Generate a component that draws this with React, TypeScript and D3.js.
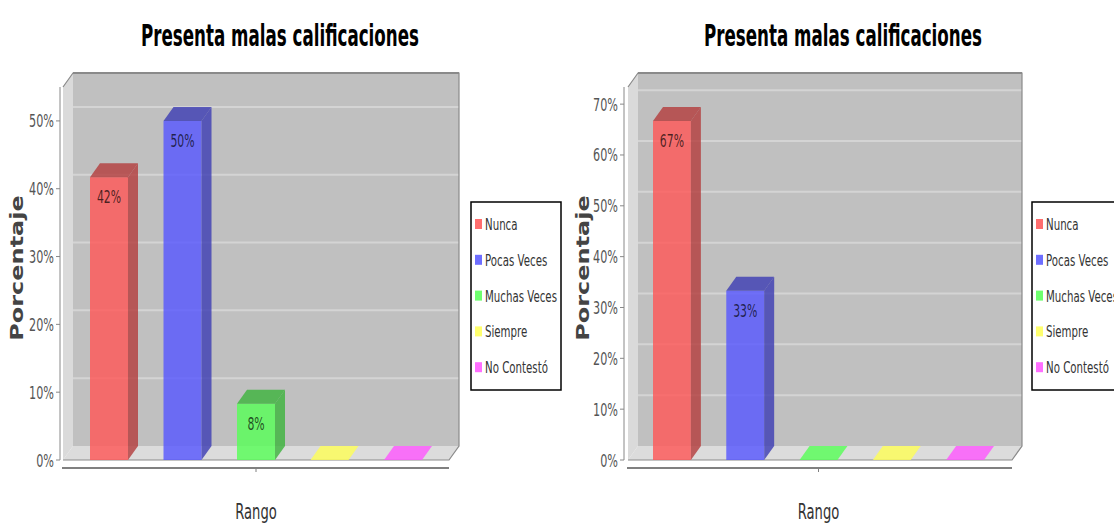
import React from "react";
import * as d3 from "d3";

// ---- data ----
const seriesNames = ["Nunca", "Pocas Veces", "Muchas Veces", "Siempre", "No Contestó"];
const seriesColors = ["#ff5555", "#5555ff", "#55ff55", "#ffff55", "#ff55ff"];
const leftValues = [41.7, 50, 8.3, 0, 0];
const rightValues = [66.7, 33.3, 0, 0, 0];
const leftTicks = [0, 10, 20, 30, 40, 50];
const rightTicks = [0, 10, 20, 30, 40, 50, 60, 70];
const titleText = "Presenta malas calificaciones";
const xAxisLabel = "Rango";
const yAxisLabel = "Porcentaje";

const W = 1114;
const H = 525;
const SX = 0.64; // horizontal squeeze of the original picture
const DX = 10;
const DY = 14;
const FONT = "'DejaVu Sans', Verdana, sans-serif";

type PanelProps = {
  values: number[];
  ticks: number[];
  fx0: number;
  fx1: number;
  axisX: number;
  barsRange: [number, number];
  titleX: number;
  labelX: number;
  legendX: number;
};

function SText(props: any) {
  const { x, y, sx = SX, children, ...rest } = props;
  return (
    <text transform={`translate(${x},${y}) scale(${sx},1)`} {...rest}>
      {children}
    </text>
  );
}

function Panel({ values, ticks, fx0, fx1, axisX, barsRange, titleX, labelX, legendX }: PanelProps) {
  const yTop = 87;
  const yBot = 460;
  const maxV = (d3.max(values) as number) * 1.1;
  const y = d3.scaleLinear().domain([0, maxV]).range([yBot, yTop]);
  const x = d3.scaleBand<string>().domain(seriesNames).range(barsRange).paddingInner(0.483).paddingOuter(0);
  const bw = x.bandwidth();
  const catCenter = (barsRange[0] + barsRange[1]) / 2;
  const darker = (c: string) => {
    const col = d3.rgb(c);
    return d3.rgb(col.r * 0.7, col.g * 0.7, col.b * 0.7).toString();
  };
  const pts = (arr: number[][]) => arr.map((p) => p.join(",")).join(" ");
  const yLabelCenter = 268;

  return (
    <g>
      {/* title */}
      <text x={titleX} y={46} textAnchor="middle" fontFamily={FONT} fontWeight="bold" fontSize={31}
        textLength={278} lengthAdjust="spacingAndGlyphs" fill="#000">{titleText}</text>

      {/* back wall */}
      <rect x={fx0 + DX} y={yTop - DY} width={fx1 - fx0} height={yBot - yTop} fill="#c0c0c0" />
      {/* left side wall */}
      <polygon points={pts([[fx0, yTop], [fx0 + DX, yTop - DY], [fx0 + DX, yBot - DY], [fx0, yBot]])} fill="#dadada" />
      {/* floor */}
      <polygon points={pts([[fx0, yBot], [fx0 + DX, yBot - DY], [fx1 + DX, yBot - DY], [fx1, yBot]])} fill="#dcdcdc" />

      {/* grid lines on back wall */}
      {ticks.filter((t) => t > 0).map((t) => (
        <line key={t} x1={fx0 + DX} x2={fx1 + DX} y1={y(t) - DY} y2={y(t) - DY} stroke="#d4d4d4" strokeWidth={2} />
      ))}

      {/* wall outline */}
      <polyline points={pts([[fx0, yTop], [fx0 + DX, yTop - DY], [fx1 + DX, yTop - DY], [fx1 + DX, yBot - DY], [fx1, yBot], [fx0, yBot]])}
        fill="none" stroke="#8a8a8a" strokeWidth={1.2} />
      <line x1={fx0 + DX} x2={fx1 + DX} y1={yTop - DY} y2={yTop - DY} stroke="#8a8a8a" strokeWidth={2} />

      {/* bars */}
      {values.map((v, i) => {
        const name = seriesNames[i];
        const x0 = x(name) as number;
        const yv = y(v);
        const c = seriesColors[i];
        const dk = darker(c);
        return (
          <g key={name}>
            {v > 0 && (
              <rect x={x0} y={yv} width={bw} height={yBot - yv} fill={c} fillOpacity={0.8} />
            )}
            {v > 0 && (
              <polygon points={pts([[x0 + bw, yv], [x0 + bw + DX, yv - DY], [x0 + bw + DX, yBot - DY], [x0 + bw, yBot]])}
                fill={dk} fillOpacity={0.8} />
            )}
            <polygon points={pts([[x0, yv], [x0 + DX, yv - DY], [x0 + bw + DX, yv - DY], [x0 + bw, yv]])}
              fill={v > 0 ? dk : c} fillOpacity={0.8} />
            {v > 0 && (
              <SText x={x0 + bw / 2} y={yv + 26} textAnchor="middle" fontFamily={FONT} fontSize={17}
                fill="#000" fillOpacity={0.7}>{`${d3.format(".0f")(v)}%`}</SText>
            )}
          </g>
        );
      })}

      {/* value axis */}
      <line x1={axisX} x2={axisX} y1={yTop} y2={yBot} stroke="#888" strokeWidth={1} />
      {ticks.map((t) => (
        <g key={t}>
          <line x1={axisX - 4} x2={axisX} y1={y(t)} y2={y(t)} stroke="#888" strokeWidth={1} />
          <SText x={axisX - 6} y={y(t) + 6.5} textAnchor="end" fontFamily={FONT} fontSize={17.5} fill="#555">{`${t}%`}</SText>
        </g>
      ))}
      <text transform={`translate(${labelX},${yLabelCenter}) scale(0.7,1) rotate(-90)`} textAnchor="middle"
        fontFamily={FONT} fontWeight="bold" fontSize={24} fill="#444">{yAxisLabel}</text>

      {/* category axis */}
      <line x1={fx0 - 1} x2={fx1} y1={468} y2={468} stroke="#808080" strokeWidth={2} />
      <line x1={catCenter} x2={catCenter} y1={468} y2={472} stroke="#808080" strokeWidth={1} />
      <SText x={catCenter} y={519} textAnchor="middle" fontFamily={FONT} fontSize={20.5} fill="#333">{xAxisLabel}</SText>

      {/* legend */}
      <rect x={legendX} y={202} width={90} height={188} fill="#fff" stroke="#000" strokeWidth={1.5} />
      {seriesNames.map((n, i) => {
        const cy = 224 + i * 35.8;
        return (
          <g key={n}>
            <rect x={legendX + 4} y={cy - 5} width={7} height={10} fill={seriesColors[i]} fillOpacity={0.85} />
            <SText x={legendX + 14} y={cy + 6} sx={0.62} fontFamily={FONT} fontSize={16.5} fill="#333">{n}</SText>
          </g>
        );
      })}
    </g>
  );
}

export default function App() {
  return (
    <svg width={W} height={H} style={{ position: "absolute", left: 0, top: 0, background: "#fff" }}>
      <rect x={0} y={0} width={W} height={H} fill="#fff" />
      <Panel values={leftValues} ticks={leftTicks} fx0={63} fx1={449} axisX={60} barsRange={[90, 422]}
        titleX={280} labelX={23} legendX={471} />
      <Panel values={rightValues} ticks={rightTicks} fx0={628} fx1={1012} axisX={624} barsRange={[653, 984]}
        titleX={843} labelX={589} legendX={1032} />
    </svg>
  );
}
